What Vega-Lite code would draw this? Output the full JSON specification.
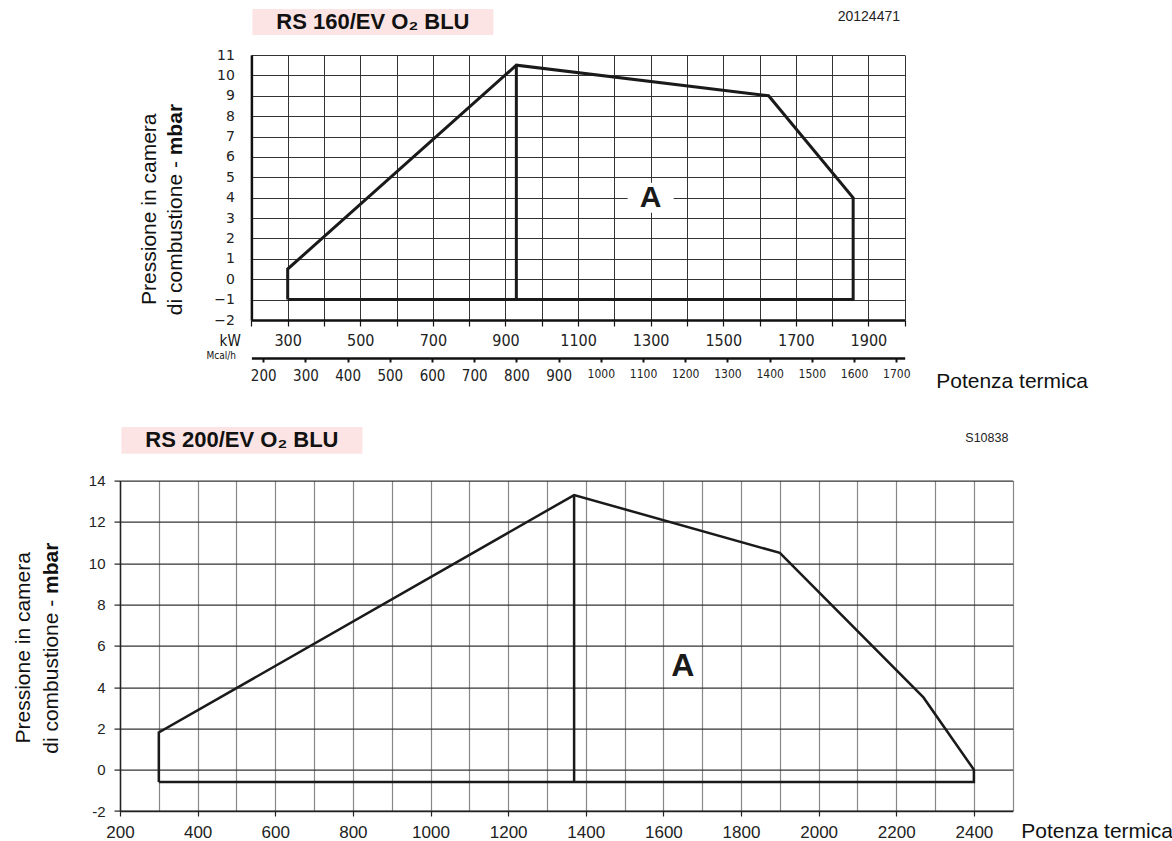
{
  "$schema": "https://vega.github.io/schema/vega-lite/v6.json",
  "padding": {"left": 12, "top": 9, "right": 0, "bottom": 0},
  "background": "white",
  "config": {
    "view": {"stroke": null},
    "axis": {"labelColor": "#222", "titleColor": "#111", "labelFont": "Liberation Sans", "titleFont": "Liberation Sans", "titleFontWeight": "normal"}
  },
  "spacing": 36,
  "vconcat": [
    {
      "spacing": 20,
      "bounds": "flush",
      "vconcat": [
        {
          "width": 373.4,
          "height": 26,
          "data": {"values": [{"name": "RS 160/EV O₂ BLU"}]},
          "encoding": {
            "x": {"field": "name", "type": "nominal", "scale": {"type": "band", "range": [132.4, 373.4], "paddingInner": 0, "paddingOuter": 0}, "axis": null}
          },
          "layer": [
            {"mark": {"type": "bar", "color": "#fce4e4"}},
            {"mark": {"type": "text", "font": "Liberation Sans", "fontSize": 22, "fontWeight": "bold", "color": "#111", "baseline": "middle"}, "encoding": {"text": {"field": "name"}}}
          ]
        },
        {
          "width": 784.7,
          "height": 265,
          "title": {"text": "20124471", "anchor": "end", "frame": "group", "orient": "top", "offset": 13, "baseline": "alphabetic", "fontSize": 14, "fontWeight": "normal", "font": "Liberation Sans", "dx": -4.7, "color": "#222"},
          "layer": [
            {
              "data": {"values": [
                {"ord": 1, "kw": 300, "p": -1},
                {"ord": 2, "kw": 300, "p": 0.5},
                {"ord": 3, "kw": 930, "p": 10.5},
                {"ord": 4, "kw": 1625, "p": 9},
                {"ord": 5, "kw": 1858, "p": 4},
                {"ord": 6, "kw": 1858, "p": -1},
                {"ord": 7, "kw": 300, "p": -1}
              ]},
              "mark": {"type": "line", "color": "#1a1a1a", "strokeWidth": 3, "strokeJoin": "miter"},
              "encoding": {
                "x": {"field": "kw", "type": "quantitative",
                  "scale": {"domain": [200, 2000], "range": [131.4, 784.7], "nice": false, "zero": false},
                  "axis": {
                    "values": [200, 300, 400, 500, 600, 700, 800, 900, 1000, 1100, 1200, 1300, 1400, 1500, 1600, 1700, 1800, 1900, 2000],
                    "grid": true, "gridColor": "#333", "gridWidth": 1, "gridOpacity": 1,
                    "domain": true, "domainColor": "#111", "domainWidth": 2.5,
                    "ticks": true, "tickSize": 6, "tickColor": "#111", "tickWidth": 1.2,
                    "labelExpr": "datum.value % 200 === 100 ? format(datum.value, 'd') : ''",
                    "labelFont": "Liberation Sans Narrow, Arial Narrow, DejaVu Sans Condensed, Liberation Sans",
                    "labelFontSize": 16, "labelPadding": 6, "labelFlush": false, "labelOverlap": false,
                    "title": "kW", "titleX": 109.7, "titleY": 20, "titleAlign": "center", "titleBaseline": "middle",
                    "titleFont": "Liberation Sans Narrow, Arial Narrow, DejaVu Sans Condensed, Liberation Sans", "titleFontSize": 15
                  }
                },
                "y": {"field": "p", "type": "quantitative",
                  "scale": {"domain": [-2, 11], "nice": false, "zero": false},
                  "axis": {
                    "values": [-2, -1, 0, 1, 2, 3, 4, 5, 6, 7, 8, 9, 10, 11],
                    "offset": -131.4,
                    "grid": true, "gridColor": "#333", "gridWidth": 1, "gridOpacity": 1,
                    "domain": true, "domainColor": "#111", "domainWidth": 2.5,
                    "ticks": false, "labelPadding": 17,
                    "labelFont": "DejaVu Sans", "labelFontSize": 14,
                    "title": "Pressione in camera", "titleAngle": -90, "titleX": -95.7, "titleY": 153.7,
                    "titleAlign": "center", "titleBaseline": "alphabetic", "titleFontSize": 21
                  }
                },
                "order": {"field": "ord"}
              }
            },
            {
              "data": {"values": [
                {"ord": 1, "kw": 930, "p": 10.5},
                {"ord": 2, "kw": 930, "p": -1}
              ]},
              "mark": {"type": "line", "color": "#1a1a1a", "strokeWidth": 3},
              "encoding": {
                "x": {"field": "kw", "type": "quantitative",
                  "axis": {
                    "orient": "bottom", "offset": 38,
                    "values": [232.56, 348.84, 465.12, 581.4, 697.67, 813.95, 930.23, 1046.51, 1162.79, 1279.07, 1395.35, 1511.63, 1627.91, 1744.19, 1860.47, 1976.74],
                    "grid": false,
                    "domain": true, "domainColor": "#111", "domainWidth": 2.5,
                    "ticks": true, "tickSize": 4, "tickColor": "#111", "tickWidth": 2,
                    "labelExpr": "format(round(datum.value * 0.86), 'd')",
                    "labelFont": "Liberation Sans Narrow, Arial Narrow, DejaVu Sans Condensed, Liberation Sans",
                    "labelFontSize": {"condition": {"test": "datum.value > 1100", "value": 12}, "value": 15},
                    "labelPadding": 6, "labelFlush": false, "labelOverlap": false,
                    "title": "Mcal/h", "titleX": 100.7, "titleY": -3, "titleAlign": "center", "titleBaseline": "middle",
                    "titleFont": "Liberation Sans Narrow, Arial Narrow, DejaVu Sans Condensed, Liberation Sans", "titleFontSize": 10
                  }
                },
                "y": {"field": "p", "type": "quantitative",
                  "axis": {
                    "orient": "left", "offset": -131.4, "grid": false, "domain": false, "ticks": false, "labels": false,
                    "title": "di combustione -", "titleAngle": -90, "titleX": -70, "titleY": 105.6,
                    "titleAlign": "right", "titleBaseline": "alphabetic", "titleFontSize": 21
                  }
                },
                "order": {"field": "ord"}
              }
            },
            {
              "data": {"values": [{"kw": 1300, "p": 4, "lab": "A"}]},
              "mark": {"type": "point", "shape": "M-1,-0.65L1,-0.65L1,0.65L-1,0.65Z", "size": 2116, "filled": true, "color": "white", "opacity": 1, "strokeWidth": 0},
              "encoding": {
                "x": {"field": "kw", "type": "quantitative",
                  "axis": {
                    "orient": "bottom", "offset": 38, "grid": false, "domain": false, "ticks": false, "labels": false,
                    "title": "Potenza termica", "titleX": 815.7, "titleY": 23, "titleAlign": "left", "titleBaseline": "middle", "titleFontSize": 21
                  }
                },
                "y": {"field": "p", "type": "quantitative",
                  "axis": {
                    "orient": "left", "offset": -131.4, "grid": false, "domain": false, "ticks": false, "labels": false,
                    "title": "mbar", "titleFontWeight": "bold", "titleAngle": -90, "titleX": -70, "titleY": 99.8,
                    "titleAlign": "left", "titleBaseline": "alphabetic", "titleFontSize": 21
                  }
                }
              }
            },
            {
              "data": {"values": [{"kw": 1300, "p": 4, "lab": "A"}]},
              "mark": {"type": "text", "font": "Liberation Sans", "fontSize": 30, "fontWeight": "bold", "color": "#1a1a1a", "baseline": "middle", "align": "center"},
              "encoding": {
                "x": {"field": "kw", "type": "quantitative", "axis": null},
                "y": {"field": "p", "type": "quantitative", "axis": null},
                "text": {"field": "lab"}
              }
            }
          ],
          "resolve": {"axis": {"x": "independent", "y": "independent"}}
        }
      ]
    },
    {
      "spacing": 26.6,
      "bounds": "flush",
      "vconcat": [
        {
          "width": 242.4,
          "height": 26.7,
          "data": {"values": [{"name": "RS 200/EV O₂ BLU"}]},
          "encoding": {
            "x": {"field": "name", "type": "nominal", "scale": {"type": "band", "range": [1.4, 242.4], "paddingInner": 0, "paddingOuter": 0}, "axis": null}
          },
          "layer": [
            {"mark": {"type": "bar", "color": "#fce4e4"}},
            {"mark": {"type": "text", "font": "Liberation Sans", "fontSize": 22, "fontWeight": "bold", "color": "#111", "baseline": "middle"}, "encoding": {"text": {"field": "name"}}}
          ]
        },
        {
          "width": 892.7,
          "height": 330.4,
          "title": {"text": "S10838", "anchor": "end", "frame": "group", "orient": "top", "offset": 19.6, "baseline": "alphabetic", "fontSize": 12.5, "fontWeight": "normal", "font": "Liberation Sans", "dx": -4.3, "color": "#222"},
          "layer": [
            {
              "data": {"values": [
                {"ord": 1, "kw": 300, "p": -0.6},
                {"ord": 2, "kw": 300, "p": 1.8},
                {"ord": 3, "kw": 1370, "p": 13.3},
                {"ord": 4, "kw": 1900, "p": 10.5},
                {"ord": 5, "kw": 2270, "p": 3.5},
                {"ord": 6, "kw": 2400, "p": 0},
                {"ord": 7, "kw": 2400, "p": -0.6},
                {"ord": 8, "kw": 300, "p": -0.6}
              ]},
              "mark": {"type": "line", "color": "#1a1a1a", "strokeWidth": 2.5, "strokeJoin": "miter"},
              "encoding": {
                "x": {"field": "kw", "type": "quantitative",
                  "scale": {"domain": [200, 2500], "nice": false, "zero": false},
                  "axis": {
                    "values": [200, 300, 400, 500, 600, 700, 800, 900, 1000, 1100, 1200, 1300, 1400, 1500, 1600, 1700, 1800, 1900, 2000, 2100, 2200, 2300, 2400, 2500],
                    "grid": true, "gridColor": "#888", "gridWidth": 1.2, "gridOpacity": 1,
                    "domain": true, "domainColor": "#222", "domainWidth": 1.5,
                    "ticks": true, "tickSize": 5, "tickColor": "#222", "tickWidth": 1.2,
                    "tickOpacity": {"condition": {"test": "datum.value % 200 === 0 && datum.value < 2500", "value": 1}, "value": 0},
                    "labelExpr": "datum.value % 200 === 0 && datum.value < 2500 ? format(datum.value, 'd') : ''",
                    "labelFontSize": 17, "labelPadding": 8, "labelFlush": false, "labelOverlap": false,
                    "title": "Potenza termica", "titleX": 900.7, "titleY": 26.3, "titleAlign": "left", "titleBaseline": "alphabetic", "titleFontSize": 21
                  }
                },
                "y": {"field": "p", "type": "quantitative",
                  "scale": {"domain": [-2, 14], "nice": false, "zero": false},
                  "axis": {
                    "values": [-2, 0, 2, 4, 6, 8, 10, 12, 14],
                    "grid": true, "gridColor": "#333", "gridWidth": 1.2, "gridOpacity": 1,
                    "domain": true, "domainColor": "#222", "domainWidth": 1.5,
                    "ticks": true, "tickSize": 6, "tickColor": "#222", "tickWidth": 1.2,
                    "labelPadding": 9, "labelFontSize": 15,
                    "labelExpr": "replace(datum.label, '−', '-')",
                    "title": "Pressione in camera", "titleAngle": -90, "titleX": -90.8, "titleY": 166.7,
                    "titleAlign": "center", "titleBaseline": "alphabetic", "titleFontSize": 21
                  }
                },
                "order": {"field": "ord"}
              }
            },
            {
              "data": {"values": [
                {"ord": 1, "kw": 1370, "p": 13.3},
                {"ord": 2, "kw": 1370, "p": -0.6}
              ]},
              "mark": {"type": "line", "color": "#1a1a1a", "strokeWidth": 2.5},
              "encoding": {
                "x": {"field": "kw", "type": "quantitative", "axis": null},
                "y": {"field": "p", "type": "quantitative",
                  "axis": {
                    "orient": "left", "grid": false, "domain": false, "ticks": false, "labels": false,
                    "title": "di combustione -", "titleAngle": -90, "titleX": -62.3, "titleY": 118.6,
                    "titleAlign": "right", "titleBaseline": "alphabetic", "titleFontSize": 21
                  }
                },
                "order": {"field": "ord"}
              }
            },
            {
              "data": {"values": [{"kw": 1650, "p": 5, "lab": "A"}]},
              "mark": {"type": "text", "font": "Liberation Sans", "fontSize": 32, "fontWeight": "bold", "color": "#1a1a1a", "baseline": "middle", "align": "center"},
              "encoding": {
                "x": {"field": "kw", "type": "quantitative", "axis": null},
                "y": {"field": "p", "type": "quantitative",
                  "axis": {
                    "orient": "left", "grid": false, "domain": false, "ticks": false, "labels": false,
                    "title": "mbar", "titleFontWeight": "bold", "titleAngle": -90, "titleX": -62.3, "titleY": 112.8,
                    "titleAlign": "left", "titleBaseline": "alphabetic", "titleFontSize": 21
                  }
                },
                "text": {"field": "lab"}
              }
            }
          ],
          "resolve": {"axis": {"x": "independent", "y": "independent"}}
        }
      ]
    }
  ]
}
